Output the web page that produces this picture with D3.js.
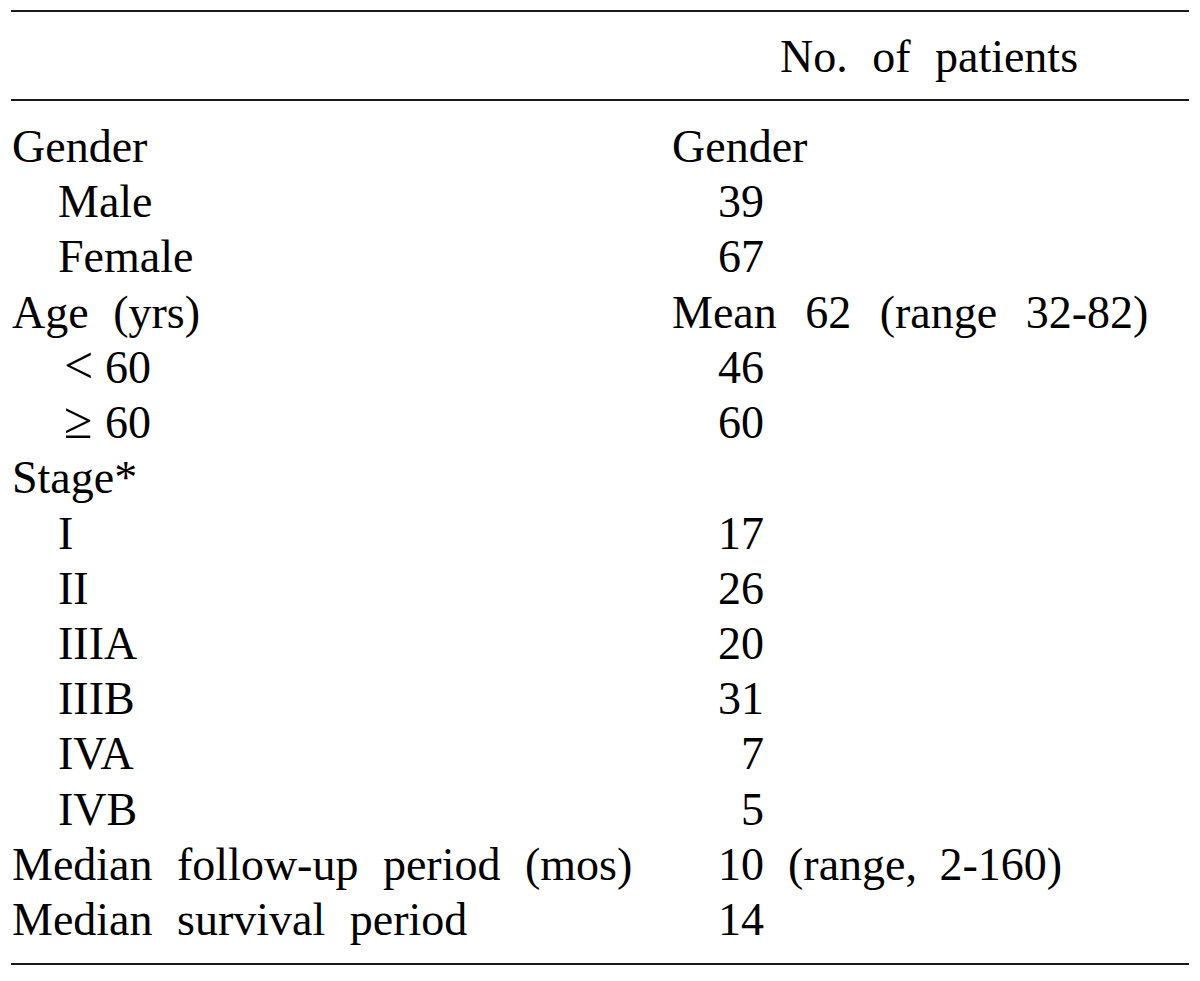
<!DOCTYPE html>
<html>
<head>
<meta charset="utf-8">
<script src="https://cdn.jsdelivr.net/npm/d3@7"></script>
<style>
html,body{margin:0;padding:0;background:#fff;}
svg{display:block;}
</style>
</head>
<body>
<svg id="chart" width="1200" height="981"></svg>
<script>
// ---- data ----
const header = "No. of patients";
const labels = ["Gender","Male","Female","Age (yrs)","<60","≥60","Stage*","I","II","IIIA","IIIB","IVA","IVB","Median follow-up period (mos)","Median survival period"];
const indented = [false,true,true,false,true,true,false,true,true,true,true,true,true,false,false];
const values = ["Gender","39","67","Mean 62 (range 32-82)","46","60","","17","26","20","31","7","5","10","14"];
const valueNotes = ["","","","","","","","","","","","","","(range, 2-160)",""];

const W = 1200, H = 981;
const font = "'Liberation Serif','Times New Roman',Times,serif";
const fs = 46;
const svg = d3.select("#chart");

const y = d3.scaleLinear().domain([0, labels.length - 1]).range([162, 935]);
const x = d3.scaleOrdinal().domain(["left","indent","col2","numRight"]).range([12, 58, 672, 764]);

// rules
const rules = [11, 100, 964];
svg.selectAll("line.rule").data(rules).join("line")
  .attr("class","rule")
  .attr("x1", 11).attr("x2", 1189)
  .attr("y1", d => d).attr("y2", d => d)
  .attr("stroke", "#1a1a1a").attr("stroke-width", 2.2);

// header
svg.append("text")
  .attr("x", 929).attr("y", 72)
  .attr("text-anchor","middle")
  .attr("font-family", font).attr("font-size", fs)
  .attr("word-spacing", 13)
  .attr("fill","#000")
  .text(header);

// labels
const g = svg.append("g").attr("font-family", font).attr("font-size", fs).attr("fill","#000").attr("word-spacing", 13);
labels.forEach((lab, i) => {
  const x0 = indented[i] ? x("indent") : x("left");
  const first = lab[0];
  if (first === "<" || first === "≥") {
    const t = g.append("text").attr("y", y(i));
    t.append("tspan").attr("x", x0 + 6)
      .attr("font-size", 52)
      .text(first);
    t.append("tspan").attr("x", x0 + 47).text(lab.slice(1));
  } else {
    g.append("text").attr("x", x0).attr("y", y(i)).text(lab);
  }
});

// values
const isNum = v => /^\d+$/.test(v);
values.forEach((v, i) => {
  if (!v) return;
  if (isNum(v)) {
    g.append("text").attr("x", x("numRight")).attr("y", y(i)).attr("text-anchor","end").text(v);
    if (valueNotes[i]) {
      g.append("text").attr("x", x("numRight") + 24).attr("y", y(i)).attr("word-spacing", 11).text(valueNotes[i]);
    }
  } else {
    g.append("text").attr("x", x("col2")).attr("y", y(i)).attr("word-spacing", 17).text(v);
  }
});
</script>
</body>
</html>
